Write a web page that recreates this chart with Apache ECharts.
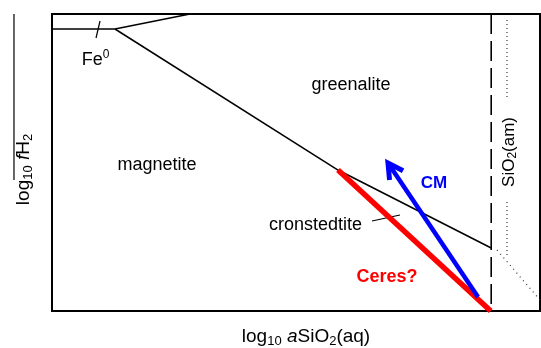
<!DOCTYPE html>
<html><head><meta charset="utf-8">
<script src="https://cdn.jsdelivr.net/npm/echarts@6/dist/echarts.min.js"></script>
<style>html,body{margin:0;padding:0;background:#fff}#c{width:541px;height:348px}</style>
</head><body><div id="c"></div>
<script>
// Data in arbitrary diagram units (x: log10 aSiO2(aq), y: log10 fH2), 0..100
const feMagnetiteBoundary = [[0, 94.95], [12.91, 94.95]];
const feGreenaliteBoundary = [[12.91, 94.95], [28.28, 100]];
const magnetiteGreenaliteBoundary = [[12.91, 94.95], [58.61, 47.47]];
const cronstedtiteGreenaliteBoundary = [[58.61, 47.47], [90, 21.21]];
const silicaSaturation = [[90, 100], [90, 0]];
const ceresPath = [[58.61, 47.47], [89.9, 0]];
const cmPath = [[87.3, 4.71], [68.85, 49.83]];
const feTick = [[9.84, 97.64], [9.02, 91.92]];
const cronstedtiteLeader = [[65.57, 30.3], [71.31, 32.32]];
const dottedUpper = [[93.24, 97.98], [93.24, 72.05]];
const dottedLower = [[93.24, 36.7], [93.24, 18.52]];
const dottedDiag = [[91.19, 20.54], [100, 3.7]];
const yLabelRule = [[-7.79, 100], [-7.79, 44.1]];
const fieldNames = ['greenalite', 'magnetite', 'cronstedtite', 'Fe{sup|0}', 'SiO{sub|2}(am)'];
const fieldPos = [[61.27, 76.09], [21.52, 49.16], [54.0, 28.96], [8.91, 84.6], [93.65, 53.54]];
const pathNames = ['CM', 'Ceres?'];
const pathPos = [[78.28, 43.1], [68.65, 11.45]];

const FONT = 'Liberation Sans, Arial, sans-serif';
function seg(data, color, width, type) {
  return {type: 'line', data: data, symbol: 'none', silent: true,
    lineStyle: {color: color, width: width, type: type || 'solid', cap: 'butt'}, z: 3};
}
const richBase = {
  sub: {fontSize: 12, fontFamily: FONT, color: '#000', padding: [8, 0, 0, 0]},
  sup: {fontSize: 12, fontFamily: FONT, color: '#000', padding: [0, 0, 10, 0]},
  it: {fontSize: 17, fontFamily: FONT, fontStyle: 'italic', color: '#000'}
};
const richAxis = {
  sub: {fontSize: 13, fontFamily: FONT, color: '#000', padding: [9, 0, 0, 0]},
  it: {fontSize: 19, fontFamily: FONT, fontStyle: 'italic', color: '#000'}
};
const fieldData = fieldNames.map((n, i) => ({
  value: fieldPos[i],
  label: {formatter: n, color: '#000', rotate: i === 4 ? 90 : 0, fontSize: i === 4 ? 17 : 18}
}));
const pathColors = ['#0000ff', '#ff0000'];
const pathData = pathNames.map((n, i) => ({
  value: pathPos[i],
  label: {formatter: n, color: pathColors[i], fontWeight: 'bold', fontSize: i === 0 ? 17 : 18}
}));

const chart = echarts.init(document.getElementById('c'), null, {renderer: 'canvas'});
chart.setOption({
  animation: false,
  backgroundColor: '#fff',
  grid: {left: 52, top: 14, right: 1, bottom: 37, show: true, borderColor: '#000', borderWidth: 2, backgroundColor: 'transparent',
    containLabel: false, outerBoundsMode: 'none'},
  xAxis: {type: 'value', min: 0, max: 100, axisLine: {show: false}, axisTick: {show: false}, axisLabel: {show: false}, splitLine: {show: false},
    name: 'log{sub|10} {it|a}SiO{sub|2}(aq)', nameLocation: 'middle', nameGap: 15,
    nameTextStyle: {fontSize: 19, fontFamily: FONT, color: '#000', rich: richAxis, padding: [0, 0, 0, 20]}},
  yAxis: {type: 'value', min: 0, max: 100, axisLine: {show: false}, axisTick: {show: false}, axisLabel: {show: false}, splitLine: {show: false},
    name: 'log{sub|10} {it|f}H{sub|2}', nameLocation: 'middle', nameGap: 17, nameRotate: 90,
    nameTextStyle: {fontSize: 19, fontFamily: FONT, color: '#000', rich: richAxis, padding: [0, 14, 0, 0]}},
  series: [
    seg(feMagnetiteBoundary, '#000', 1.5),
    seg(feGreenaliteBoundary, '#000', 1.5),
    seg(magnetiteGreenaliteBoundary, '#000', 1.5),
    seg(cronstedtiteGreenaliteBoundary, '#000', 1.5),
    seg(feTick, '#000', 1.2),
    seg(cronstedtiteLeader, '#000', 1.2),
    seg(silicaSaturation, '#000', 1.6, [20, 7]),
    seg(dottedUpper, '#333', 1.2, [1, 3]),
    seg(dottedLower, '#333', 1.2, [1, 3]),
    seg(dottedDiag, '#333', 1.2, [1, 4]),
    Object.assign(seg(ceresPath, '#ff0000', 5.5), {z: 5}),
    Object.assign(seg(cmPath, '#0000ff', 4.5), {z: 6}),
    {type: 'custom', silent: true, z: 7, clip: false, data: [yLabelRule[0].concat(yLabelRule[1])],
      renderItem: function (params, api) {
        const p1 = api.coord([api.value(0), api.value(1)]);
        const p2 = api.coord([api.value(2), api.value(3)]);
        return {type: 'line', shape: {x1: p1[0], y1: p1[1], x2: p2[0], y2: p2[1]},
          style: {stroke: '#000', lineWidth: 1.2}};
      }},
    {type: 'custom', silent: true, z: 7, data: [cmPath[0].concat(cmPath[1])],
      renderItem: function (params, api) {
        const p1 = api.coord([api.value(0), api.value(1)]);
        const p2 = api.coord([api.value(2), api.value(3)]);
        const ang = Math.atan2(p2[1] - p1[1], p2[0] - p1[0]);
        const L = 17, a = 0.5;
        const l = [p2[0] - L * Math.cos(ang - a), p2[1] - L * Math.sin(ang - a)];
        const r = [p2[0] - L * Math.cos(ang + a), p2[1] - L * Math.sin(ang + a)];
        return {type: 'polyline', shape: {points: [l, p2, r]},
          style: {stroke: '#0000ff', lineWidth: 5, fill: null, lineJoin: 'miter', lineCap: 'butt'}};
      }},
    {type: 'scatter', data: fieldData, symbolSize: 0, silent: true, z: 8, itemStyle: {opacity: 1},
      label: {show: true, position: 'inside', color: '#000', fontFamily: FONT, fontSize: 18, rich: richBase}},
    {type: 'scatter', data: pathData, symbolSize: 0, silent: true, z: 8, itemStyle: {opacity: 1},
      label: {show: true, position: 'inside', fontFamily: FONT, fontSize: 18}}
  ]
});
</script></body></html>
